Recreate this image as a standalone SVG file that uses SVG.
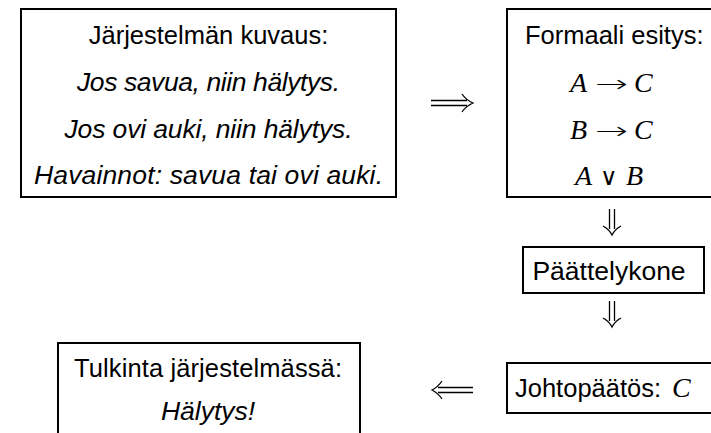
<svg xmlns="http://www.w3.org/2000/svg" width="711" height="433" viewBox="0 0 711 433">
<style>
.box{fill:#fff;stroke:#000;stroke-width:2}
.t{font-family:"Liberation Sans",Arial,sans-serif;font-size:25.5px;fill:#000}
.i{font-style:italic;font-size:26.5px}
.m{font-family:"Liberation Serif","Times New Roman",serif;font-size:28px;font-style:italic;fill:#000}
.op{font-family:"DejaVu Sans",sans-serif;font-size:24px;font-weight:300;fill:#000}
.c{stroke:#000;stroke-width:1.3;fill:none}
</style>
<rect width="711" height="433" fill="#fff"/>
<g id="kuvaus">
<rect class="box" x="21" y="9" width="375" height="188"/>
<text class="t" x="208.5" y="44" text-anchor="middle">Järjestelmän kuvaus:</text>
<text class="t i" x="208.5" y="91" text-anchor="middle" textLength="263">Jos savua, niin hälytys.</text>
<text class="t i" x="208.5" y="138" text-anchor="middle" textLength="288">Jos ovi auki, niin hälytys.</text>
<text class="t i" x="208.5" y="184" text-anchor="middle" textLength="349">Havainnot: savua tai ovi auki.</text>
</g>
<g id="formaali">
<rect class="box" x="507" y="9" width="220" height="188"/>
<text class="t" x="525" y="44">Formaali esitys:</text>
<text class="m" x="570" y="92">A</text>
<text class="op" x="595" y="92" textLength="33" lengthAdjust="spacingAndGlyphs">→</text>
<text class="m" x="634" y="92">C</text>
<text class="m" x="570" y="139">B</text>
<text class="op" x="595" y="139" textLength="33" lengthAdjust="spacingAndGlyphs">→</text>
<text class="m" x="634" y="139">C</text>
<text class="m" x="575" y="185">A</text>
<text class="op" x="600" y="185">∨</text>
<text class="m" x="626" y="185">B</text>
</g>
<g id="paattelykone">
<rect class="box" x="523" y="247" width="181" height="46"/>
<text class="t" x="609" y="280" text-anchor="middle" style="font-size:26.5px">Päättelykone</text>
</g>
<g id="johtopaatos">
<rect class="box" x="507" y="363" width="220" height="50"/>
<text class="t" x="515" y="397">Johtopäätös:</text>
<text class="m" x="672" y="397">C</text>
</g>
<g id="tulkinta">
<rect class="box" x="58" y="343" width="302" height="110"/>
<text class="t" x="208" y="377" text-anchor="middle" textLength="268">Tulkinta järjestelmässä:</text>
<text class="t i" x="208" y="420" text-anchor="middle">Hälytys!</text>
</g>
<g id="connectors">
<path class="c" d="M431 100.5 H467 M431 105.5 H467 M462 94 Q466 100 473 103 Q466 106 462 112"/>
<path class="c" d="M609.5 209 V229 M614.5 209 V229 M603 226 Q609 229 612 235 Q615 229 621 226"/>
<path class="c" d="M609.5 301 V321 M614.5 301 V321 M603 318 Q609 321 612 327 Q615 321 621 318"/>
<path class="c" d="M473 387.5 H438 M473 392.5 H438 M442 381 Q438 387 432 390 Q438 393 442 399"/>
</g>
</svg>
